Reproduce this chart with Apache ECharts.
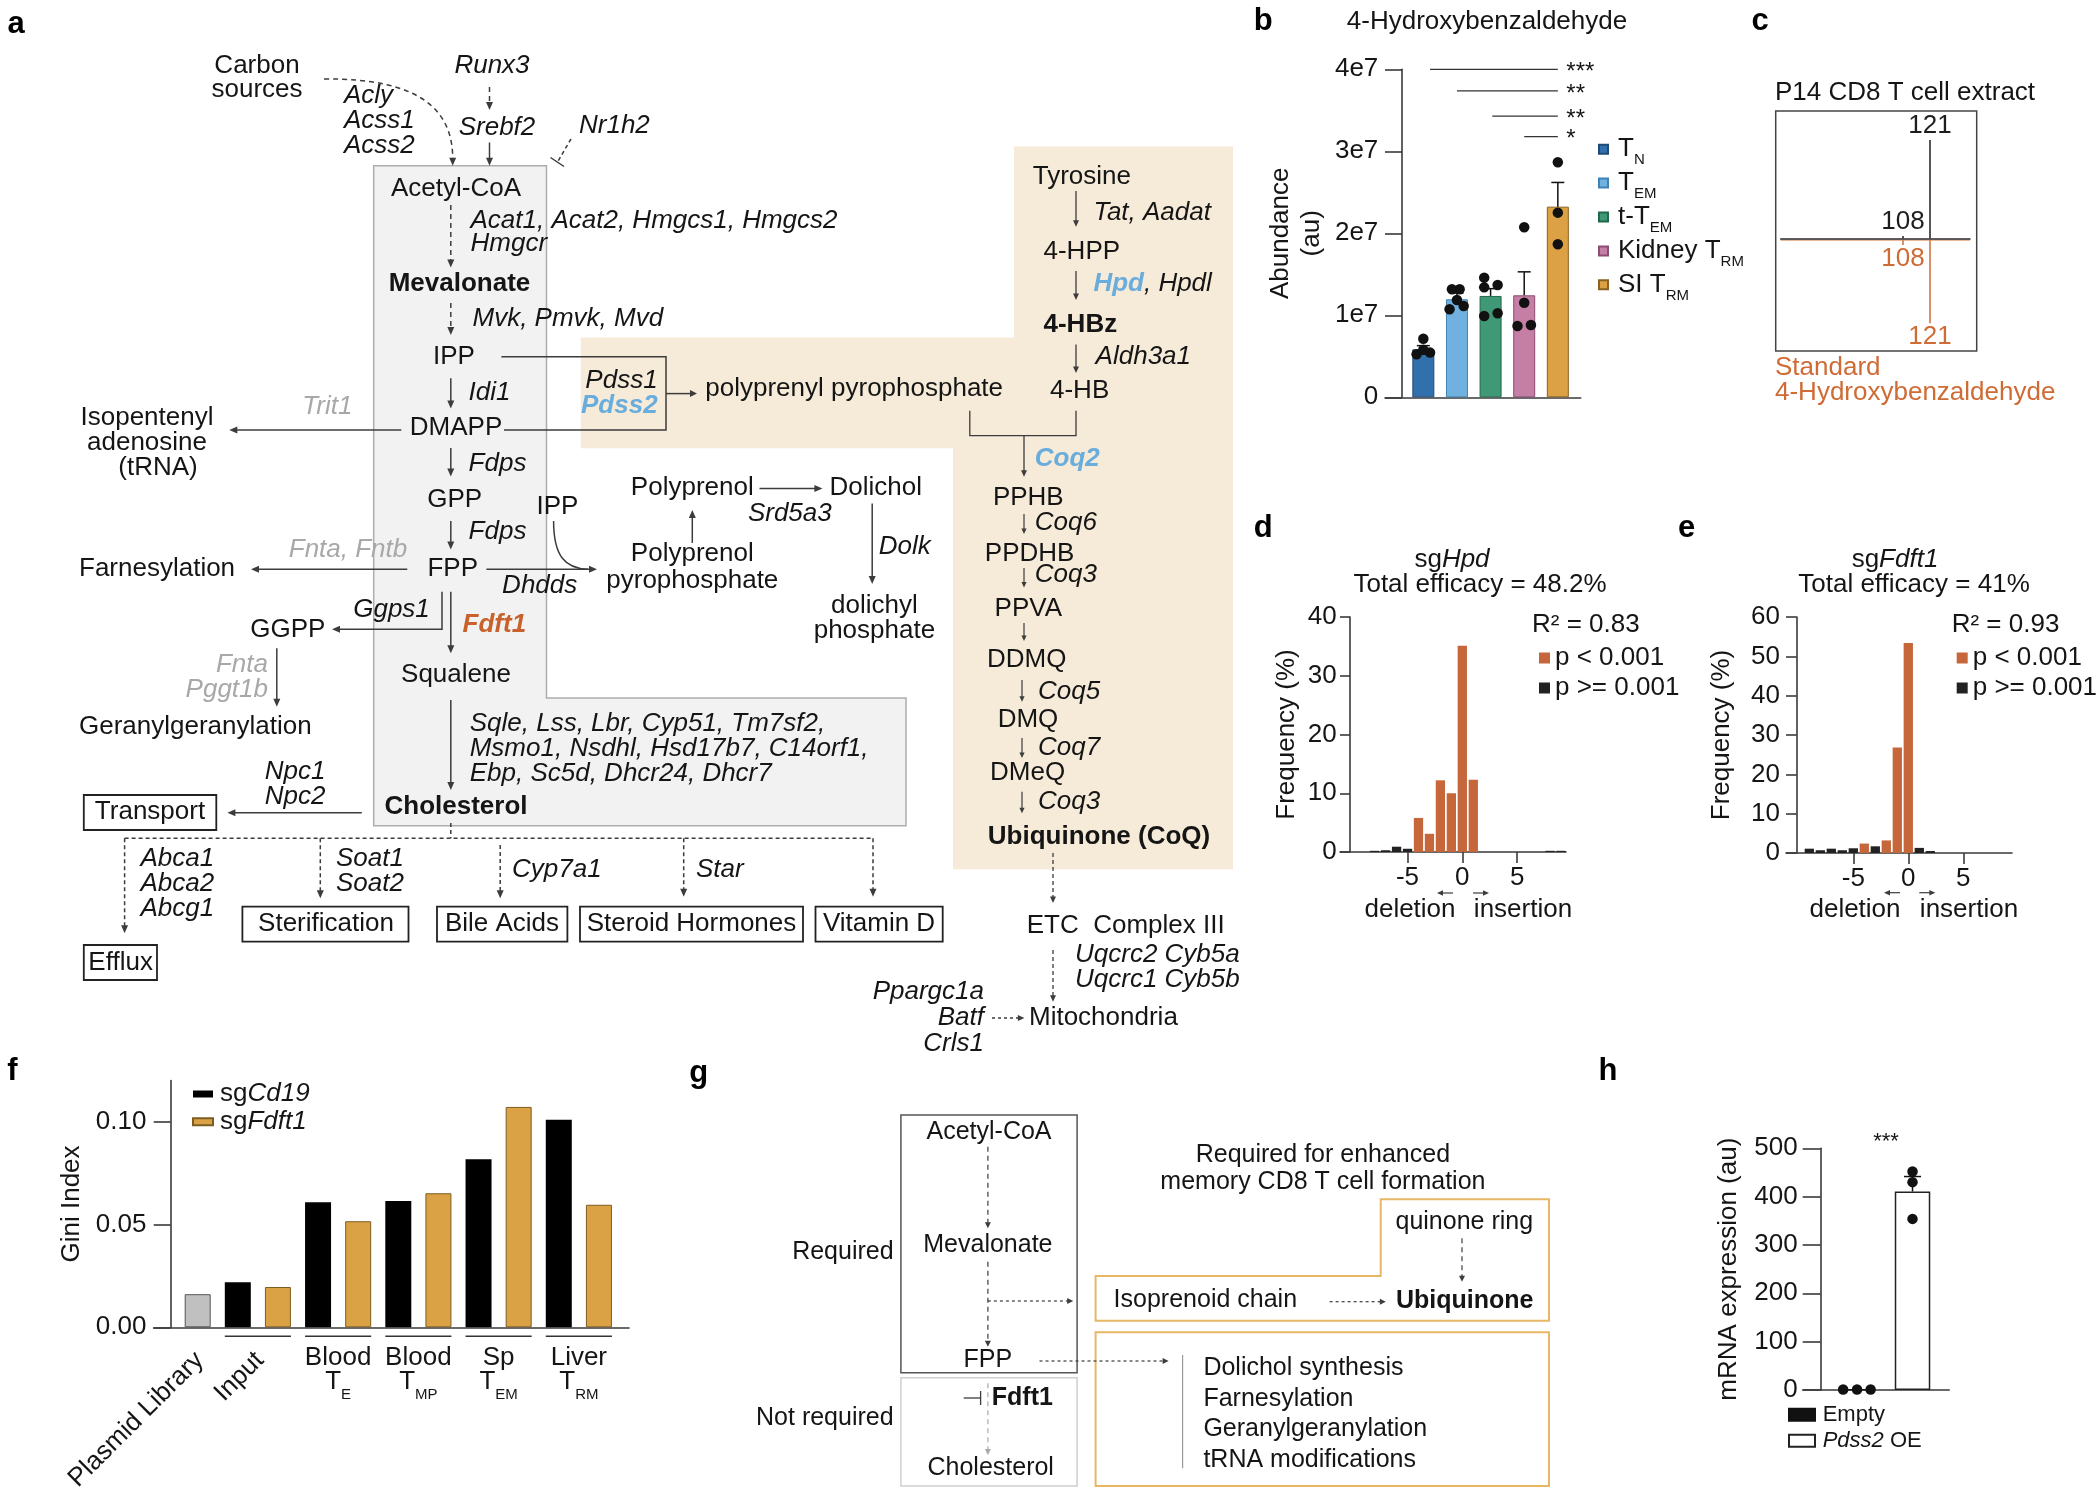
<!DOCTYPE html>
<html><head><meta charset="utf-8">
<script src="https://cdn.jsdelivr.net/npm/echarts@6.0.0/dist/echarts.min.js"></script>
<style>html,body{margin:0;padding:0;background:#fff}#chart{width:2100px;height:1489px}</style>
</head><body><div id="chart"></div>
<script>
// ================= DATA =================
// panel b
const bGroups = ['TN', 'TEM', 't-TEM', 'Kidney TRM', 'SI TRM'];
const bLegendLabels = ['{m|T}{s|N}', '{m|T}{s|EM}', '{m|t-T}{s|EM}', '{m|Kidney T}{s|RM}', '{m|SI T}{s|RM}'];
const bMeans = [5.85e6, 1.195e7, 1.236e7, 1.244e7, 2.325e7];
const bErrTop = [6.3e6, 1.27e7, 1.325e7, 1.53e7, 2.62e7];
const bDots = [[0, 7.15e6], [-0.2, 5.24e6], [0.2, 5.45e6], [0, 5.8e6],
  [0.85, 1.317e7], [1.08, 1.317e7], [1.0, 1.187e7], [0.78, 1.073e7], [1.2, 1.114e7],
  [1.81, 1.459e7], [1.81, 1.341e7], [2.21, 1.37e7], [1.81, 0.992e7], [2.21, 1.024e7],
  [3, 2.073e7], [3, 1.154e7], [2.8, 0.87e7], [3.2, 0.882e7],
  [4, 2.866e7], [4, 2.252e7], [4, 1.866e7]];
const bSigFrom = [0.2, 1, 2.05, 3];
const bSigTo = [4, 4, 4, 4];
const bSigY = [4.0e7, 3.736e7, 3.43e7, 3.18e7];
const bSigLabels = ['***', '**', '**', '*'];
const bTickLabels = ['0', '1e7', '2e7', '3e7', '4e7'];
// panel c
const cMz = [108, 121];
const cExtract = [2.5, 100];
const cStandard = [6.6, 86];
// panel d
const dShift = [-8, -7, -6, -5, -4, -3, -2, -1, 0, 1, 8, 9];
const dFreq = [0.2, 0.3, 0.9, 0.55, 5.8, 3.1, 12.2, 10.0, 35.1, 12.3, 0.2, 0.2];
const dSig = [0, 0, 0, 0, 1, 1, 1, 1, 1, 1, 0, 0];
// panel e
const eShift = [-9, -8, -7, -6, -5, -4, -3, -2, -1, 0, 1, 2];
const eFreq = [1.1, 0.7, 1.1, 0.7, 1.2, 2.4, 1.7, 3.2, 26.8, 53.4, 1.3, 0.5];
const eSig = [0, 0, 0, 0, 0, 1, 0, 1, 1, 1, 0, 0];
const deTicks = [-5, 0, 5];
// panel f
const fGroupTop = ['Input', 'Blood', 'Blood', 'Sp', 'Liver'];
const fGroupSub = ['', 'E', 'MP', 'EM', 'RM'];
const fPlasmid = 0.0161;
const fCd19 = [0.0219, 0.0608, 0.0614, 0.0817, 0.101];
const fFdft1 = [0.0196, 0.0516, 0.0652, 0.1072, 0.0596];
const fTicks = [0, 0.05, 0.10];
// panel h
const hGroups = ['Empty', 'Pdss2 OE'];
const hMeans = [1, 410.6];
const hErrTop = [1, 441.6];
const hDots = [[-0.25, 1], [0, 1], [0.245, 1], [1, 452], [1, 430], [1, 354]];

// ================= STYLE =================
const FF = "'Liberation Sans', Arial, Helvetica, sans-serif";
const INK = '#151515', LINE = '#3c3c3c', BLUE = '#69ADDC', ORG = '#C8612B', GRAY = '#A8A8A8';
const ORG_C = '#CF6B35', ORG_D = '#C5673A', GOLD = '#DBA245';
const AL = { color: '#3a3a3a', width: 1.6 };
const D = [5, 4];

const chart = echarts.init(document.getElementById('chart'), null, { renderer: 'canvas' });

function errRender(capHalf) {
  return function (params, api) {
    const x = api.value(0), m = api.value(1), t = api.value(2);
    if (!(t > m)) return null;
    const p0 = api.coord([x, m]), p1 = api.coord([x, t]);
    return { type: 'group', children: [
      { type: 'line', shape: { x1: p0[0], y1: p0[1], x2: p1[0], y2: p1[1] }, style: { stroke: '#111', lineWidth: 1.5 } },
      { type: 'line', shape: { x1: p1[0] - capHalf, y1: p1[1], x2: p1[0] + capHalf, y2: p1[1] }, style: { stroke: '#111', lineWidth: 1.5 } }
    ] };
  };
}
function sigRender(params, api) {
  const y = api.value(2);
  const a = api.coord([api.value(0), y]), b = api.coord([api.value(1), y]);
  return { type: 'group', children: [
    { type: 'line', shape: { x1: a[0], y1: a[1], x2: b[0], y2: b[1] }, style: { stroke: '#333', lineWidth: 1.3 } },
    { type: 'text', x: b[0] + 8.5, y: b[1] + 3, style: { text: bSigLabels[params.dataIndex], fill: INK, fontSize: 24, fontFamily: FF, align: 'left', verticalAlign: 'middle', textAlign: 'left', textVerticalAlign: 'middle' } }
  ] };
}
function peakRender(color, dir, baseShift, baseColor) {
  return function (params, api) {
    const mz = api.value(0), v = api.value(1);
    const p0 = api.coord([mz, 0]), p1 = api.coord([mz, dir * v]);
    const y0 = p0[1] + baseShift;
    const ch = [
      { type: 'line', z2: 5, shape: { x1: p0[0], y1: y0, x2: p1[0], y2: p1[1] }, style: { stroke: color, lineWidth: 1.5 } },
      { type: 'text', x: p1[0], y: p1[1] - dir * 14, style: { text: String(mz), fill: color, fontSize: 26, fontFamily: FF, align: 'center', verticalAlign: 'middle', textAlign: 'center', textVerticalAlign: 'middle' } }
    ];
    if (baseColor && params.dataIndex === 0) {
      const cs = params.coordSys;
      ch.push({ type: 'line', z2: 1, shape: { x1: cs.x, y1: y0, x2: cs.x + cs.width, y2: y0 }, style: { stroke: baseColor, lineWidth: 1.4 } });
    }
    return { type: 'group', children: ch };
  };
}

function yAx(gi, o) {
  return Object.assign({
    gridIndex: gi, type: 'value',
    axisLine: { show: true, onZero: false, lineStyle: AL },
    axisTick: { show: true, inside: false, length: o.tick, lineStyle: AL },
    axisLabel: { show: true, fontSize: 26, color: INK, fontFamily: FF, margin: o.margin },
    splitLine: { show: false },
    nameLocation: 'middle', nameRotate: 90,
    nameTextStyle: { fontSize: 26, color: INK, fontFamily: FF, lineHeight: 30 }
  }, o.extra);
}
function xHidden(gi, min, max) {
  return { gridIndex: gi, type: 'value', min: min, max: max,
    axisLine: { show: true, onZero: false, lineStyle: AL }, axisTick: { show: false }, axisLabel: { show: false }, splitLine: { show: false } };
}
function xHist(gi, min, max) {
  return { gridIndex: gi, type: 'value', min: min, max: max,
    axisLine: { show: true, onZero: false, lineStyle: AL },
    axisTick: { show: true, length: 11, customValues: deTicks, lineStyle: AL },
    axisLabel: { show: true, customValues: deTicks, fontSize: 26, color: INK, fontFamily: FF, margin: 13 },
    splitLine: { show: false } };
}
const bColors = ['#3270AD', '#70B1DF', '#3F9976', '#C57EA4', '#DCA145'];
const bBorders = ['#1f4a75', '#3f82b5', '#24684c', '#8d4c72', '#8a6222'];

const option = {
  animation: false,
  backgroundColor: '#ffffff',
  textStyle: { fontFamily: FF },
  grid: [
    { left: 1385, top: 69.3, width: 195.7, height: 328, outerBoundsMode: 'none' },
    { left: 1780.7, top: 140, width: 189.3, height: 197, outerBoundsMode: 'none' },
    { left: 1340, top: 617, width: 226, height: 235, outerBoundsMode: 'none' },
    { left: 1786, top: 617, width: 226, height: 236, outerBoundsMode: 'none' },
    { left: 153.6, top: 1080.6, width: 475.4, height: 246.7, outerBoundsMode: 'none' },
    { left: 1802.8, top: 1148.3, width: 146.4, height: 241.7, outerBoundsMode: 'none' }
  ],
  xAxis: [
    xHidden(0, -1.14, 4.68),
    { gridIndex: 1, type: 'value', min: 49.1, max: 140.26, z: 5, axisLine: { show: true, onZero: true, lineStyle: { color: '#2a2a2a', width: 1.5 } }, axisTick: { show: false }, axisLabel: { show: false }, splitLine: { show: false } },
    xHist(2, -11.16, 9.46),
    xHist(3, -11.12, 9.43),
    xHidden(4, -1.099, 10.75),
    xHidden(5, -0.977, 1.661)
  ],
  yAxis: [
    yAx(0, { tick: 17, margin: 23.7, extra: { min: 0, max: 4e7, interval: 1e7, offset: -17, name: 'Abundance\n(au)', nameGap: 75,
      axisLabel: { show: true, fontSize: 26, color: INK, fontFamily: FF, margin: 23.7, formatter: function (v) { return bTickLabels[Math.round(v / 1e7)]; } },
      nameTextStyle: { fontSize: 26, color: INK, fontFamily: FF, lineHeight: 31 } } }),
    { gridIndex: 1, type: 'value', min: -100, max: 100, show: false },
    yAx(2, { tick: 10, margin: 13.3, extra: { min: 0, max: 40, interval: 10, offset: -10, name: 'Frequency (%)', nameGap: 48 } }),
    yAx(3, { tick: 10.7, margin: 16.7, extra: { min: 0, max: 60, interval: 10, offset: -10.7, name: 'Frequency (%)', nameGap: 60 } }),
    yAx(4, { tick: 17, margin: 24.3, extra: { min: 0, max: 0.12, offset: -17.1, name: 'Gini Index', nameGap: 84,
      axisTick: { show: true, length: 17, customValues: fTicks, lineStyle: AL },
      axisLabel: { show: true, customValues: fTicks, fontSize: 26, color: INK, fontFamily: FF, margin: 24.3, formatter: function (v) { return v.toFixed(2); } } } }),
    yAx(5, { tick: 18, margin: 23, extra: { min: 0, max: 500, interval: 100, offset: -17.9, name: 'mRNA expression (au)', nameGap: 77 } })
  ],
  legend: [
    { data: bGroups, orient: 'vertical', left: 1598, top: 130.7, itemWidth: 9, itemHeight: 9, itemGap: -3.1, padding: 0, icon: 'rect', selectedMode: false,
      formatter: function (n) { return bLegendLabels[bGroups.indexOf(n)]; },
      textStyle: { color: INK, fontSize: 26, fontFamily: FF, padding: [0, 0, 0, 5],
        rich: { m: { fontSize: 26, lineHeight: 26, color: INK, fontFamily: FF }, s: { fontSize: 15, lineHeight: 16, color: INK, fontFamily: FF, padding: [22, 0, 0, 0] } } } },
    { data: ['p < 0.001', 'p >= 0.001'], orient: 'vertical', left: 1539, top: 645, itemWidth: 11, itemHeight: 11, itemGap: 4, padding: 0, icon: 'rect', selectedMode: false,
      textStyle: { color: INK, fontSize: 26, lineHeight: 26, fontFamily: FF } },
    { data: ['p < 0.001', 'p >= 0.001'], orient: 'vertical', left: 1956.7, top: 645, itemWidth: 11, itemHeight: 11, itemGap: 4, padding: 0, icon: 'rect', selectedMode: false,
      textStyle: { color: INK, fontSize: 26, lineHeight: 26, fontFamily: FF } },
    { data: ['sgCd19', 'sgFdft1'], orient: 'vertical', left: 192, top: 1081, itemWidth: 20, itemHeight: 7, itemGap: 1.7, padding: 0, icon: 'rect', selectedMode: false,
      formatter: function (n) { return '{n|sg}{i|' + n.slice(2) + '}'; },
      textStyle: { color: INK, fontSize: 26, fontFamily: FF, padding: [0, 0, 0, 2],
        rich: { n: { fontSize: 26, lineHeight: 26, color: INK, fontFamily: FF }, i: { fontSize: 26, lineHeight: 26, color: INK, fontFamily: FF, fontStyle: 'italic' } } } },
    { data: hGroups, orient: 'vertical', left: 1788, top: 1403.7, itemWidth: 26, itemHeight: 12, itemGap: 4, padding: 0, icon: 'rect', selectedMode: false,
      formatter: function (n) { return n === 'Empty' ? '{n|Empty}' : '{i|Pdss2}{n| OE}'; },
      textStyle: { color: INK, fontSize: 22, fontFamily: FF, padding: [0, 0, 0, 2.7],
        rich: { n: { fontSize: 22, lineHeight: 26, color: INK, fontFamily: FF }, i: { fontSize: 22, lineHeight: 26, color: INK, fontFamily: FF, fontStyle: 'italic' } } } }
  ],
  series: [].concat(
    bGroups.map(function (g, i) {
      return { name: g, type: 'bar', xAxisIndex: 0, yAxisIndex: 0, barWidth: 22, barGap: '-100%', z: 2,
        data: [[i, bMeans[i]]], itemStyle: { color: bColors[i], borderColor: bBorders[i], borderWidth: 1 } };
    }),
    [
      { type: 'custom', name: 'b-err', xAxisIndex: 0, yAxisIndex: 0, z: 4, encode: { x: 0, y: [1, 2] },
        data: bMeans.map(function (m, i) { return [i, m, bErrTop[i]]; }), renderItem: errRender(6.5) },
      { type: 'scatter', name: 'b-points', xAxisIndex: 0, yAxisIndex: 0, z: 5, data: bDots, symbolSize: 10.5, itemStyle: { color: '#111', opacity: 1 } },
      { type: 'custom', name: 'b-sig', xAxisIndex: 0, yAxisIndex: 0, z: 4, encode: { x: [0, 1], y: 2 },
        data: bSigFrom.map(function (f, i) { return [f, bSigTo[i], bSigY[i]]; }), renderItem: sigRender },
      // c
      { type: 'custom', name: 'Extract', xAxisIndex: 1, yAxisIndex: 1, z: 4, encode: { x: 0, y: 1 },
        data: cMz.map(function (m, i) { return [m, cExtract[i]]; }), renderItem: peakRender('#1e1e1e', 1, 0, null) },
      { type: 'custom', name: 'Standard', xAxisIndex: 1, yAxisIndex: 1, z: 1, encode: { x: 0, y: 1 },
        data: cMz.map(function (m, i) { return [m, cStandard[i]]; }), renderItem: peakRender(ORG_C, -1, 1.8, '#EDB896') },
      // d
      { name: 'p < 0.001', type: 'bar', xAxisIndex: 2, yAxisIndex: 2, barWidth: 9.3, barGap: '-100%',
        data: dShift.map(function (x, i) { return dSig[i] ? [x, dFreq[i]] : null; }).filter(Boolean), itemStyle: { color: ORG_D } },
      { name: 'p >= 0.001', type: 'bar', xAxisIndex: 2, yAxisIndex: 2, barWidth: 9.3, barGap: '-100%',
        data: dShift.map(function (x, i) { return dSig[i] ? null : [x, dFreq[i]]; }).filter(Boolean), itemStyle: { color: '#222' } },
      // e
      { name: 'p < 0.001', type: 'bar', xAxisIndex: 3, yAxisIndex: 3, barWidth: 9.3, barGap: '-100%',
        data: eShift.map(function (x, i) { return eSig[i] ? [x, eFreq[i]] : null; }).filter(Boolean), itemStyle: { color: ORG_D } },
      { name: 'p >= 0.001', type: 'bar', xAxisIndex: 3, yAxisIndex: 3, barWidth: 9.3, barGap: '-100%',
        data: eShift.map(function (x, i) { return eSig[i] ? null : [x, eFreq[i]]; }).filter(Boolean), itemStyle: { color: '#222' } },
      // f
      { name: 'Plasmid Library', type: 'bar', xAxisIndex: 4, yAxisIndex: 4, barWidth: 26, barGap: '-100%',
        data: [[0, fPlasmid]], itemStyle: { color: '#C0C0C0', borderColor: '#555', borderWidth: 1 } },
      { name: 'sgCd19', type: 'bar', xAxisIndex: 4, yAxisIndex: 4, barWidth: 26, barGap: '-100%',
        data: fCd19.map(function (v, i) { return [1 + 2 * i, v]; }), itemStyle: { color: '#000' } },
      { name: 'sgFdft1', type: 'bar', xAxisIndex: 4, yAxisIndex: 4, barWidth: 26, barGap: '-100%',
        data: fFdft1.map(function (v, i) { return [2 + 2 * i, v]; }), itemStyle: { color: GOLD, borderColor: '#7d5d22', borderWidth: 1 } },
      // h
      { name: 'Empty', type: 'bar', xAxisIndex: 5, yAxisIndex: 5, barWidth: 35.5, barGap: '-100%',
        data: [[0, hMeans[0]]], itemStyle: { color: '#111', borderColor: '#111', borderWidth: 1 } },
      { name: 'Pdss2 OE', type: 'bar', xAxisIndex: 5, yAxisIndex: 5, barWidth: 35.5, barGap: '-100%',
        data: [[1, hMeans[1]]], itemStyle: { color: '#fff', borderColor: '#222', borderWidth: 1.5 } },
      { type: 'custom', name: 'h-err', xAxisIndex: 5, yAxisIndex: 5, z: 4, encode: { x: 0, y: [1, 2] },
        data: hMeans.map(function (m, i) { return [i, m, hErrTop[i]]; }), renderItem: errRender(8.5) },
      { type: 'scatter', name: 'h-points', xAxisIndex: 5, yAxisIndex: 5, z: 5, data: hDots, symbolSize: 10.5, itemStyle: { color: '#111', opacity: 1 } }
    ]
  )
};
chart.setOption(option);

// ================= GRAPHIC HELPERS =================
const G = [];
function T(x, y, text, o) {
  o = o || {};
  const al = o.align || 'left';
  const st = { text: text, fill: o.color || INK, fontSize: o.size || 26, fontFamily: FF,
    fontWeight: o.bold ? 'bold' : 'normal', fontStyle: o.it ? 'italic' : 'normal',
    align: al, verticalAlign: 'middle', textAlign: al, textVerticalAlign: 'middle' };
  if (o.lh) st.lineHeight = o.lh;
  if (o.rich) st.rich = o.rich;
  G.push({ type: 'text', x: x, y: y, rotation: o.rot || 0, z: 30, silent: true, style: st });
}
function RS(o) {
  return Object.assign({ fill: o.color || INK, fontSize: o.size || 26, fontFamily: FF,
    fontStyle: o.it ? 'italic' : 'normal', fontWeight: o.bold ? 'bold' : 'normal' }, o.extra || {});
}
function P(pts, o) {
  o = o || {};
  G.push({ type: 'polyline', z: 25, silent: true, shape: { points: pts },
    style: { stroke: o.color || LINE, lineWidth: o.w || 1.5, fill: null, lineDash: o.dash || null } });
}
function H(x, y, ux, uy, o) {
  o = o || {};
  const L = o.hl || 8, W = o.hw || 3.5;
  G.push({ type: 'polygon', z: 25, silent: true,
    shape: { points: [[x, y], [x - ux * L - uy * W, y - uy * L + ux * W], [x - ux * L + uy * W, y - uy * L - ux * W]] },
    style: { fill: o.color || LINE, stroke: null } });
}
function A(x1, y1, x2, y2, o) {
  o = o || {};
  const L = o.hl || 8;
  const dx = x2 - x1, dy = y2 - y1, d = Math.hypot(dx, dy), ux = dx / d, uy = dy / d;
  P([[x1, y1], [x2 - ux * L * 0.7, y2 - uy * L * 0.7]], o);
  H(x2, y2, ux, uy, o);
}
function PA(pts, o) {
  o = o || {};
  const n = pts.length, a = pts[n - 2], b = pts[n - 1];
  const dx = b[0] - a[0], dy = b[1] - a[1], d = Math.hypot(dx, dy), ux = dx / d, uy = dy / d;
  const L = o.hl || 8;
  const p2 = pts.slice(0, n - 1).concat([[b[0] - ux * L * 0.7, b[1] - uy * L * 0.7]]);
  P(p2, o); H(b[0], b[1], ux, uy, o);
}
function B(x1, y1, x2, y2, o) {
  o = o || {};
  G.push({ type: 'rect', z: o.z || 24, silent: true, shape: { x: x1, y: y1, width: x2 - x1, height: y2 - y1 },
    style: { fill: o.fill || null, stroke: o.stroke || '#222', lineWidth: o.w || 1.8 } });
}
function PG(pts, o) {
  G.push({ type: 'polygon', z: o.z || 1, silent: true, shape: { points: pts },
    style: { fill: o.fill || null, stroke: o.stroke || null, lineWidth: o.w || 1.5 } });
}
function BZ(x1, y1, c1x, c1y, c2x, c2y, x2, y2, o) {
  o = o || {};
  G.push({ type: 'bezierCurve', z: 25, silent: true, shape: { x1: x1, y1: y1, x2: x2, y2: y2, cpx1: c1x, cpy1: c1y, cpx2: c2x, cpy2: c2y },
    style: { stroke: o.color || LINE, lineWidth: o.w || 1.5, fill: null, lineDash: o.dash || null } });
}

// ================= PANEL LETTERS =================
[['a', 16, 24], ['b', 1263.3, 21.7], ['c', 1760, 21.7], ['d', 1263.3, 528.3], ['e', 1686.7, 528.3],
 ['f', 12.5, 1071.7], ['g', 698.6, 1073], ['h', 1608, 1071.7]].forEach(function (p) {
  T(p[1], p[2], p[0], { bold: true, size: 31, align: 'center', color: '#000' });
});

// ================= PANEL a =================
PG([[373.7, 165.7], [546.5, 165.7], [546.5, 698], [906, 698], [906, 825.7], [373.7, 825.7]], { fill: '#F2F2F2', stroke: '#ADADAD', w: 1.5 });
PG([[1014, 146.4], [1233, 146.4], [1233, 869.3], [953, 869.3], [953, 448.2], [580.8, 448.2], [580.8, 337.5], [1014, 337.5]], { fill: '#F6EAD8' });

T(257, 77.85, 'Carbon\nsources', { align: 'center', lh: 24.3 });
T(344, 121, 'Acly\nAcss1\nAcss2', { it: true, lh: 25 });
T(492, 65.7, 'Runx3', { it: true, align: 'center' });
T(458.7, 128, 'Srebf2', { it: true });
T(579, 126, 'Nr1h2', { it: true });
BZ(324, 79, 420, 78, 452.5, 110, 452.7, 158, { dash: D }); H(452.7, 165.7, 0, 1);
A(489.5, 87, 489.5, 110, { dash: D });
A(489.5, 142.5, 489.5, 165.7);
P([[571, 139], [557.5, 162]], { dash: [4, 3] }); P([[550.5, 157.5], [564, 166.5]]);

T(456, 189, 'Acetyl-CoA', { align: 'center' });
A(450.8, 205, 450.8, 267.5, { dash: D });
T(470.5, 232.5, 'Acat1, Acat2, Hmgcs1, Hmgcs2\nHmgcr', { it: true, lh: 23 });
T(388.7, 283.6, 'Mevalonate', { bold: true });
A(450.8, 303, 450.8, 335, { dash: D });
T(472.5, 319, 'Mvk, Pmvk, Mvd', { it: true });
T(454, 356.8, 'IPP', { align: 'center' });
P([[501.4, 356.8], [666, 356.8], [666, 430], [504, 430]]);
A(666, 393.6, 697, 393.6, { hl: 7 });
T(657.6, 380.4, 'Pdss1', { it: true, align: 'right' });
T(657.6, 405.4, 'Pdss2', { it: true, bold: true, color: BLUE, align: 'right' });
T(705.3, 389.3, 'polyprenyl pyrophosphate');
A(450.8, 378.2, 450.8, 408.6);
T(468.6, 392.5, 'Idi1', { it: true });
T(456, 428.2, 'DMAPP', { align: 'center' });
A(401.3, 430, 229.3, 430);
T(327.4, 406.8, 'Trit1', { it: true, color: GRAY, align: 'center' });
T(147, 417.5, 'Isopentenyl', { align: 'center' });
T(147, 442.5, 'adenosine', { align: 'center' });
T(158, 467.5, '(tRNA)', { align: 'center' });
A(450.8, 447.9, 450.8, 476.4);
T(468.6, 464, 'Fdps', { it: true });
T(454.7, 499.6, 'GPP', { align: 'center' });
A(450.8, 521, 450.8, 549.6);
T(468.6, 531.8, 'Fdps', { it: true });
T(557.5, 506.8, 'IPP', { align: 'center' });
BZ(553.6, 521, 553.6, 556, 565, 568.5, 588, 569.3, {});
T(452.7, 569.3, 'FPP', { align: 'center' });
A(486.4, 569.3, 597, 569.3);
T(539.7, 586, 'Dhdds', { it: true, align: 'center' });
A(407.3, 569.3, 251, 569.3);
T(348, 549.6, 'Fnta, Fntb', { it: true, color: GRAY, align: 'center' });
T(79, 569.3, 'Farnesylation');
A(450.8, 591.7, 450.8, 653.3);
PA([[442, 591.7], [442, 629.3], [332, 629.3]]);
T(391.5, 610, 'Ggps1', { it: true, align: 'center' });
T(462.6, 625, 'Fdft1', { it: true, bold: true, color: ORG });
T(287.9, 630, 'GGPP', { align: 'center' });
A(276.8, 648.3, 276.8, 706.7);
T(268, 665, 'Fnta', { it: true, color: GRAY, align: 'right' });
T(268, 690, 'Pggt1b', { it: true, color: GRAY, align: 'right' });
T(79, 726.7, 'Geranylgeranylation');
T(456, 675, 'Squalene', { align: 'center' });
A(450.8, 700, 450.8, 790);
T(469.7, 748.3, 'Sqle, Lss, Lbr, Cyp51, Tm7sf2,\nMsmo1, Nsdhl, Hsd17b7, C14orf1,\nEbp, Sc5d, Dhcr24, Dhcr7', { it: true, lh: 25 });
T(456, 806.7, 'Cholesterol', { bold: true, align: 'center' });
T(295, 784.2, 'Npc1\nNpc2', { it: true, align: 'center', lh: 25 });
A(361.8, 812.7, 227.4, 812.7);
B(83.8, 795, 216.3, 830); T(150, 812.3, 'Transport', { align: 'center' });
P([[450.8, 823], [450.8, 838.3]], { dash: [4, 3] });
P([[124.6, 838.3], [873, 838.3]], { dash: [4, 3] });
A(124.6, 838.3, 124.6, 933.3, { dash: [4, 3] });
T(140.4, 883.3, 'Abca1\nAbca2\nAbcg1', { it: true, lh: 25 });
B(83.8, 945, 157, 980); T(120.6, 963, 'Efflux', { align: 'center' });
A(320.3, 838.3, 320.3, 898.3, { dash: [4, 3] });
T(336, 870.8, 'Soat1\nSoat2', { it: true, lh: 25 });
B(242.4, 906.7, 408.5, 941.7); T(326, 924, 'Sterification', { align: 'center' });
A(500.2, 845, 500.2, 898.3, { dash: [4, 3] });
T(512, 870, 'Cyp7a1', { it: true });
B(437, 906.7, 567.4, 941.7); T(502, 924, 'Bile Acids', { align: 'center' });
A(683.7, 838.3, 683.7, 896.7, { dash: [4, 3] });
T(696, 870, 'Star', { it: true });
B(580, 906.7, 803, 941.7); T(691.5, 924, 'Steroid Hormones', { align: 'center' });
A(873, 838.3, 873, 896.7, { dash: [4, 3] });
B(815.5, 906.7, 942.7, 941.7); T(879, 924, 'Vitamin D', { align: 'center' });

T(692.3, 487.5, 'Polyprenol', { align: 'center' });
A(759.5, 488.6, 822.4, 488.6);
T(875.7, 487.5, 'Dolichol', { align: 'center' });
T(789.8, 513.6, 'Srd5a3', { it: true, align: 'center' });
A(692.3, 542.9, 692.3, 510);
T(692.3, 567, 'Polyprenol\npyrophosphate', { align: 'center', lh: 26.8 });
A(872.2, 503.6, 872.2, 584);
T(878.7, 546.4, 'Dolk', { it: true });
T(874.4, 617.9, 'dolichyl\nphosphate', { align: 'center', lh: 25 });

const sm = { w: 1.3, hl: 6.5, hw: 3 };
T(1032.7, 176.8, 'Tyrosine');
A(1076, 191, 1076, 226.8, sm);
T(1093.4, 212.5, 'Tat, Aadat', { it: true });
T(1043.5, 251.8, '4-HPP');
A(1076, 271, 1076, 300, sm);
T(1093.4, 284, '{hb|Hpd}{hi|, Hpdl}', { rich: { hb: RS({ it: true, bold: true, color: BLUE }), hi: RS({ it: true }) } });
T(1043.5, 325, '4-HBz', { bold: true });
A(1076, 344.6, 1076, 373, sm);
T(1095.6, 357, 'Aldh3a1', { it: true });
T(1050, 391, '4-HB');
P([[969.8, 410.7], [969.8, 435.7], [1076, 435.7], [1076, 410.7]], { w: 1.3 });
A(1024, 435.7, 1024, 476.8, sm);
T(1034.8, 459, 'Coq2', { it: true, bold: true, color: BLUE });
T(1028.3, 498.2, 'PPHB', { align: 'center' });
A(1024, 514, 1024, 534, { w: 1.2, hl: 5.5, hw: 2.6 }); T(1034.8, 523, 'Coq6', { it: true });
T(1029.6, 553.6, 'PPDHB', { align: 'center' });
A(1024, 568, 1024, 587.5, { w: 1.2, hl: 5.5, hw: 2.6 }); T(1034.8, 575, 'Coq3', { it: true });
T(1028.3, 609, 'PPVA', { align: 'center' });
A(1024, 623, 1024, 641, { w: 1.2, hl: 5.5, hw: 2.6 });
T(1026.7, 660, 'DDMQ', { align: 'center' });
A(1022, 680, 1022, 701.7, { w: 1.2, hl: 5.5, hw: 2.6 }); T(1038, 691.7, 'Coq5', { it: true });
T(1028, 720, 'DMQ', { align: 'center' });
A(1022, 738, 1022, 758, { w: 1.2, hl: 5.5, hw: 2.6 }); T(1038, 748, 'Coq7', { it: true });
T(1027.6, 773.3, 'DMeQ', { align: 'center' });
A(1022, 791.7, 1022, 813.3, { w: 1.2, hl: 5.5, hw: 2.6 }); T(1038, 801.7, 'Coq3', { it: true });
T(1099, 836.7, 'Ubiquinone (CoQ)', { bold: true, align: 'center' });
A(1053, 853, 1053, 903, { dash: [4, 3], w: 1.3, hl: 6.5, hw: 3 });
T(1026.7, 926, 'ETC  Complex III');
A(1053, 950, 1053, 1001.7, { dash: [4, 3], w: 1.3, hl: 6.5, hw: 3 });
T(1075, 967.5, 'Uqcrc2 Cyb5a\nUqcrc1 Cyb5b', { it: true, lh: 25 });
T(984, 1017.5, 'Ppargc1a\nBatf\nCrls1', { it: true, align: 'right', lh: 25.8 });
A(992, 1018, 1024.4, 1018, { dash: [3, 3], w: 1.3, hl: 6.5, hw: 3 });
T(1029, 1018.3, 'Mitochondria');

// ================= PANEL b extras =================
T(1487, 21.7, '4-Hydroxybenzaldehyde', { align: 'center' });

// ================= PANEL c extras =================
T(1775, 93.3, 'P14 CD8 T cell extract');
B(1775.7, 111, 1976.7, 351, { stroke: '#444', w: 1.5 });
T(1775, 380.5, 'Standard\n4-Hydroxybenzaldehyde', { color: ORG_C, lh: 25 });

// ================= PANEL d / e extras =================
const itRich = { n: RS({}), i: RS({ it: true }) };
T(1452, 560, '{n|sg}{i|Hpd}', { align: 'center', rich: itRich });
T(1480, 585, 'Total efficacy = 48.2%', { align: 'center' });
T(1532, 625, 'R\u00B2 = 0.83');
T(1410, 910, 'deletion', { align: 'center' });
T(1523, 910, 'insertion', { align: 'center' });
A(1453, 893, 1437, 893, { w: 1.2, hl: 6, hw: 2.8 });
A(1473, 893, 1489, 893, { w: 1.2, hl: 6, hw: 2.8 });

T(1895, 560, '{n|sg}{i|Fdft1}', { align: 'center', rich: itRich });
T(1914, 585, 'Total efficacy = 41%', { align: 'center' });
T(1951.7, 625, 'R\u00B2 = 0.93');
T(1855, 910, 'deletion', { align: 'center' });
T(1969, 910, 'insertion', { align: 'center' });
A(1900, 892.7, 1884, 892.7, { w: 1.2, hl: 6, hw: 2.8 });
A(1919.3, 892.7, 1935.3, 892.7, { w: 1.2, hl: 6, hw: 2.8 });

// ================= PANEL f labels (positions from the axis scale) =================
(function () {
  const g = { gridIndex: 4 };
  const base = chart.convertToPixel(g, [0, 0]);
  T(base[0] + 2, base[1] + 29, 'Plasmid Library', { rot: Math.PI / 4, align: 'right' });
  const subRich = { t: RS({ extra: { lineHeight: 26 } }), s: RS({ size: 15, extra: { lineHeight: 15, padding: [26.6, 0, 0, 0] } }) };
  fGroupTop.forEach(function (name, i) {
    const a = chart.convertToPixel(g, [1 + 2 * i, 0]);
    const b = chart.convertToPixel(g, [2 + 2 * i, 0]);
    const cx = (a[0] + b[0]) / 2;
    P([[a[0] - 13, a[1] + 9], [b[0] + 13, b[1] + 9]], { w: 1.6, color: '#333' });
    if (!fGroupSub[i]) {
      T(cx + 2, a[1] + 29, name, { rot: Math.PI / 4, align: 'right' });
    } else {
      T(cx, a[1] + 31, name, { align: 'center' });
      T(cx, a[1] + 54.4, '{t|T}{s|' + fGroupSub[i] + '}', { align: 'center', rich: subRich });
    }
  });
})();

// ================= PANEL h extras =================
T(1886, 1142, '***', { align: 'center', size: 22 });

// ================= PANEL g =================
const gs = 25;
B(900.9, 1115, 1077.1, 1372.7, { stroke: '#555', w: 1.5 });
B(900.9, 1377.7, 1077.1, 1486, { stroke: '#CFCFCF', w: 1.5 });
T(989, 1131.7, 'Acetyl-CoA', { align: 'center', size: gs });
A(987.9, 1146.7, 987.9, 1228.3, { dash: D, w: 1.2, hl: 6, hw: 3 });
T(987.9, 1245, 'Mevalonate', { align: 'center', size: gs });
A(987.9, 1261.7, 987.9, 1346.7, { dash: D, w: 1.2, hl: 6, hw: 3 });
A(987.9, 1301, 1073.2, 1301, { dash: [3, 3], w: 1.2, hl: 6, hw: 3 });
T(987.9, 1360, 'FPP', { align: 'center', size: gs });
A(1039.5, 1361, 1168.6, 1361, { dash: [3, 3], w: 1.2, hl: 6, hw: 3 });
P([[963.7, 1398], [980.6, 1398]], { w: 1.3 }); P([[980.6, 1391], [980.6, 1405]], { w: 1.3 });
T(991.8, 1398.3, 'Fdft1', { bold: true, size: gs });
A(987.9, 1383.3, 987.9, 1455, { dash: D, w: 1.2, hl: 6, hw: 3, color: '#AAAAAA' });
T(990.7, 1468.3, 'Cholesterol', { align: 'center', size: gs });
T(893.6, 1251.7, 'Required', { align: 'right', size: gs });
T(893.6, 1418.3, 'Not required', { align: 'right', size: gs });
T(1322.9, 1168.3, 'Required for enhanced\nmemory CD8 T cell formation', { align: 'center', size: gs, lh: 26.7 });
PG([[1380.7, 1199.3], [1549, 1199.3], [1549, 1320.7], [1095.6, 1320.7], [1095.6, 1276], [1380.7, 1276]], { stroke: '#E8B765', w: 2, z: 24 });
T(1464.3, 1221.7, 'quinone ring', { align: 'center', size: gs });
A(1462, 1238.3, 1462, 1281.7, { dash: D, w: 1.2, hl: 6, hw: 3 });
T(1113.6, 1300, 'Isoprenoid chain', { size: gs });
A(1329.6, 1301.7, 1385.8, 1301.7, { dash: [3, 3], w: 1.2, hl: 6, hw: 3 });
T(1395.9, 1300.7, 'Ubiquinone', { bold: true, size: gs });
B(1095.6, 1332.3, 1549, 1486, { stroke: '#E8B765', w: 2 });
P([[1182.6, 1355], [1182.6, 1468.3]], { color: '#9a9a9a', w: 1.2 });
T(1203.4, 1414, 'Dolichol synthesis\nFarnesylation\nGeranylgeranylation\ntRNA modifications', { size: gs, lh: 30.6 });

chart.setOption({ graphic: { elements: G } });
</script>
</body></html>
